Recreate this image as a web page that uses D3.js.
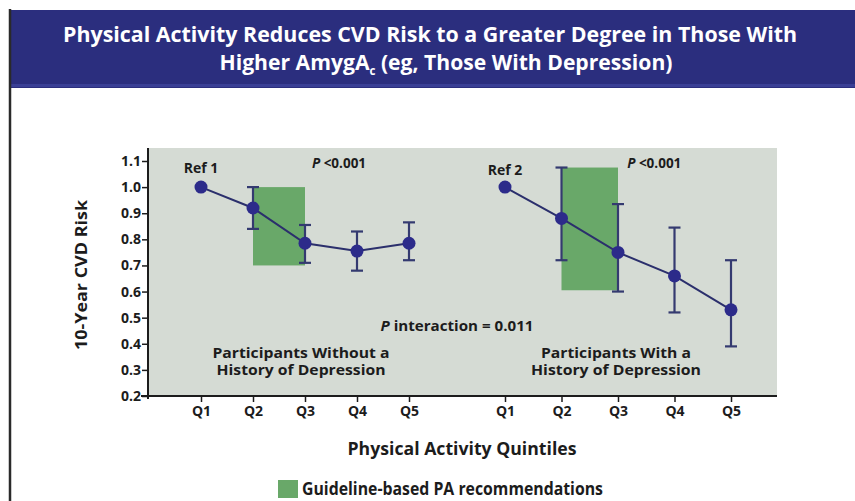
<!DOCTYPE html>
<html>
<head>
<meta charset="utf-8">
<script src="https://cdn.jsdelivr.net/npm/d3@7"></script>
<style>
  html, body { margin: 0; padding: 0; background: #fff; }
  svg { display: block; font-family: 'Open Sans', sans-serif; }
</style>
</head>
<body>
<svg class="cvdChart" width="855" height="501"></svg>
<script>
// values
const quintiles = ['Q1', 'Q2', 'Q3', 'Q4', 'Q5'];
const yTicks = [0.2, 0.3, 0.4, 0.5, 0.6, 0.7, 0.8, 0.9, 1.0, 1.1];

const riskNoDep  = [1.00, 0.92, 0.785, 0.755, 0.785];
const lowerNoDep = [null, 0.84, 0.71, 0.68, 0.72];
const upperNoDep = [null, 1.00, 0.855, 0.83, 0.865];

const riskDep  = [1.00, 0.88, 0.75, 0.66, 0.53];
const lowerDep = [null, 0.72, 0.60, 0.52, 0.39];
const upperDep = [null, 1.075, 0.935, 0.845, 0.72];

// guideline-based PA band: quintile span and risk span
const guideQuintiles = ['Q2', 'Q3'];
const guideNoDep = [0.70, 1.00];
const guideDep = [0.605, 1.075];

const titleLines = ['Physical Activity Reduces CVD Risk to a Greater Degree in Those With'];

function drawChart(){
  const svg = d3.select('svg.cvdChart');

  const plot = {left: 148, right: 777, top: 148, bottom: 396};

  const colNavy = '#2c2b8a',
        colLine = '#2b2f6c',
        colErr = '#343a70',
        colGreen = '#69a869',
        colBg = '#d5dbd4',
        colText = '#1c1c1c';

  const y = d3.scaleLinear()
              .domain([0.2, 1.1])
              .range([396, 161]);

  const xLeft = d3.scalePoint()
                  .domain(quintiles)
                  .range([201, 409]);

  const xRight = d3.scalePoint()
                   .domain(quintiles)
                   .range([505, 731]);

  // frame + title band
  svg.append('rect')
    .attr('x', 10).attr('y', 10)
    .attr('width', 845).attr('height', 78)
    .style('fill', '#2b2e7e');

  svg.append('line')
    .attr('x1', 10).attr('x2', 855)
    .attr('y1', 85.5).attr('y2', 85.5)
    .style('stroke', '#3a3f95')
    .style('stroke-width', 3);

  svg.append('line')
    .attr('x1', 10).attr('x2', 10)
    .attr('y1', 9).attr('y2', 501)
    .style('stroke', '#2a2a2a')
    .style('stroke-width', 2.5);

  svg.append('text')
    .text(titleLines[0])
    .attr('x', 430).attr('y', 42)
    .attr('textLength', 734)
    .attr('lengthAdjust', 'spacingAndGlyphs')
    .styles({
      'text-anchor': 'middle',
      'font-size': '22px',
      'font-weight': 700,
      'fill': '#fff'
    });

  const t2 = svg.append('text')
    .attr('x', 446).attr('y', 70)
    .attr('textLength', 453)
    .attr('lengthAdjust', 'spacingAndGlyphs')
    .styles({
      'text-anchor': 'middle',
      'font-size': '22px',
      'font-weight': 700,
      'fill': '#fff'
    });
  t2.append('tspan').text('Higher AmygA');
  t2.append('tspan').text('c')
    .attr('dy', 5)
    .style('font-size', '12px');
  t2.append('tspan').text(' (eg, Those With Depression)')
    .attr('dy', -5);

  // plot background
  svg.append('rect')
    .attr('x', plot.left).attr('y', plot.top)
    .attr('width', plot.right - plot.left)
    .attr('height', plot.bottom - plot.top)
    .style('fill', colBg);

  // y axis
  const yAxis = svg.append('g')
    .attr('transform', `translate(${plot.left}, 0)`)
    .call(d3.axisLeft(y).tickValues(yTicks).tickFormat(d3.format('.1f')).tickSize(6));

  yAxis.select('.domain').remove();
  yAxis.selectAll('line').style('stroke', colText).style('stroke-width', 1.5);
  yAxis.selectAll('text')
    .attr('x', -7)
    .styles({
      'font-family': "'Open Sans', sans-serif",
      'font-size': '14px',
      'font-weight': 700,
      'fill': colText
    });

  svg.append('line')
    .attr('x1', plot.left).attr('x2', plot.left)
    .attr('y1', plot.top).attr('y2', plot.bottom + 3)
    .style('stroke', colText).style('stroke-width', 2);

  svg.append('line')
    .attr('x1', 141).attr('x2', plot.right)
    .attr('y1', plot.bottom).attr('y2', plot.bottom)
    .style('stroke', colText).style('stroke-width', 2);

  svg.append('text')
    .text('10-Year CVD Risk')
    .attr('transform', 'translate(87, 275) rotate(-90)')
    .attr('textLength', 150)
    .attr('lengthAdjust', 'spacingAndGlyphs')
    .styles({
      'text-anchor': 'middle',
      'font-size': '16px',
      'font-weight': 700,
      'fill': colText
    });

  // x axes
  [xLeft, xRight].forEach(x => {
    const ax = svg.append('g')
      .attr('transform', `translate(0, ${plot.bottom})`)
      .call(d3.axisBottom(x).tickSize(6).tickPadding(4));
    ax.select('.domain').remove();
    ax.selectAll('line').style('stroke', colText).style('stroke-width', 1.5);
    ax.selectAll('text').styles({
      'font-family': "'Open Sans', sans-serif",
      'font-size': '14px',
      'font-weight': 700,
      'fill': colText
    });
  });

  svg.append('text')
    .text('Physical Activity Quintiles')
    .attr('x', 462).attr('y', 455)
    .attr('textLength', 229)
    .attr('lengthAdjust', 'spacingAndGlyphs')
    .styles({
      'text-anchor': 'middle',
      'font-size': '17px',
      'font-weight': 700,
      'fill': colText
    });

  // panels
  function appendPanel(x, risk, lower, upper, guide, refLabel, refY, caption, capX, capWidths){
    const g = svg.append('g');

    g.append('rect')
      .attr('x', x(guideQuintiles[0]))
      .attr('y', y(guide[1]))
      .attr('width', x(guideQuintiles[1]) - x(guideQuintiles[0]))
      .attr('height', y(guide[0]) - y(guide[1]))
      .style('fill', colGreen);

    const pts = quintiles.map((q, i) => ({q: q, v: risk[i], lo: lower[i], hi: upper[i]}));

    g.append('path')
      .datum(pts)
      .attr('d', d3.line().x(d => x(d.q)).y(d => y(d.v)))
      .style('fill', 'none')
      .style('stroke', colLine)
      .style('stroke-width', 2);

    const bars = g.selectAll('g.err')
      .data(pts.filter(d => d.lo != null))
      .enter()
      .append('g')
      .attr('class', 'err')
      .style('stroke', colErr)
      .style('stroke-width', 2.2);

    bars.append('line')
      .attr('x1', d => x(d.q)).attr('x2', d => x(d.q))
      .attr('y1', d => y(d.hi)).attr('y2', d => y(d.lo));
    bars.append('line')
      .attr('x1', d => x(d.q) - 6).attr('x2', d => x(d.q) + 6)
      .attr('y1', d => y(d.hi)).attr('y2', d => y(d.hi));
    bars.append('line')
      .attr('x1', d => x(d.q) - 6).attr('x2', d => x(d.q) + 6)
      .attr('y1', d => y(d.lo)).attr('y2', d => y(d.lo));

    g.selectAll('circle')
      .data(pts)
      .enter()
      .append('circle')
      .attr('cx', d => x(d.q))
      .attr('cy', d => y(d.v))
      .attr('r', 6.5)
      .style('fill', colNavy);

    g.append('text')
      .text(refLabel)
      .attr('x', x('Q1')).attr('y', refY)
      .styles({
        'text-anchor': 'middle',
        'font-size': '14px',
        'font-weight': 700,
        'fill': colText
      });

    const pTxt = g.append('text')
      .attr('x', (x('Q3') + x('Q4')) / 2 + 8).attr('y', 168)
      .styles({
        'text-anchor': 'middle',
        'font-size': '13.5px',
        'font-weight': 700,
        'fill': colText
      });
    pTxt.append('tspan').text('P').style('font-style', 'italic');
    pTxt.append('tspan').text(' <0.001');

    // two-line caption kept in one text element
    const cap = g.append('text')
      .styles({
        'text-anchor': 'middle',
        'font-size': '14px',
        'font-weight': 700,
        'fill': colText
      });
    cap.selectAll('tspan')
      .data(caption)
      .enter()
      .append('tspan')
      .text(d => d)
      .attr('x', capX)
      .attr('y', (d, i) => 358 + i * 17)
      .attr('textLength', (d, i) => capWidths[i])
      .attr('lengthAdjust', 'spacingAndGlyphs');
  }

  appendPanel(xLeft, riskNoDep, lowerNoDep, upperNoDep, guideNoDep, 'Ref 1', 173,
              ['Participants Without a', 'History of Depression'], 301, [177, 169]);
  appendPanel(xRight, riskDep, lowerDep, upperDep, guideDep, 'Ref 2', 175,
              ['Participants With a', 'History of Depression'], 616, [150, 170]);

  const pInt = svg.append('text')
    .attr('x', 457).attr('y', 331)
    .attr('textLength', 153)
    .attr('lengthAdjust', 'spacingAndGlyphs')
    .styles({
      'text-anchor': 'middle',
      'font-size': '14px',
      'font-weight': 700,
      'fill': colText
    });
  pInt.append('tspan').text('P').style('font-style', 'italic');
  pInt.append('tspan').text(' interaction = 0.011');

  // legend
  svg.append('rect')
    .attr('x', 278).attr('y', 480)
    .attr('width', 20).attr('height', 18)
    .style('fill', colGreen);

  svg.append('text')
    .text('Guideline-based PA recommendations')
    .attr('x', 302).attr('y', 495)
    .attr('textLength', 301)
    .attr('lengthAdjust', 'spacingAndGlyphs')
    .styles({
      'font-size': '17px',
      'font-weight': 700,
      'fill': colText
    });
}

// d3 v7 has no .styles(); small helper so style objects can be passed
d3.selection.prototype.styles = function(obj){
  Object.keys(obj).forEach(k => this.style(k, obj[k]));
  return this;
};

drawChart();
</script>
</body>
</html>
